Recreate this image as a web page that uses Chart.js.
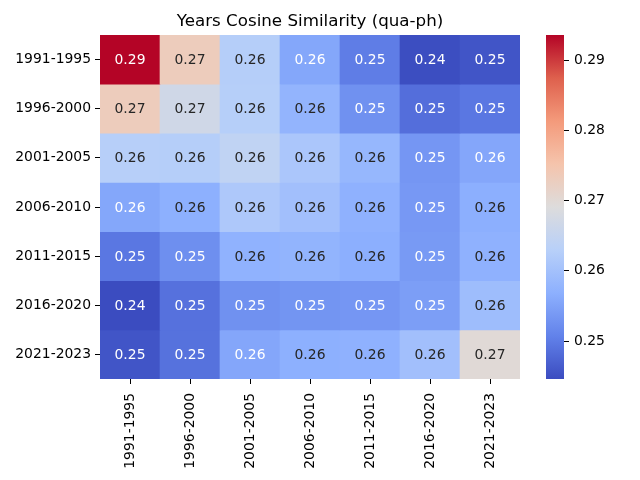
<!DOCTYPE html>
<html>
<head>
<meta charset="utf-8">
<script src="https://cdn.jsdelivr.net/npm/chart.js@4.4.1/dist/chart.umd.min.js"></script>
<style>
    html, body { margin: 0; padding: 0; background: #fff; }
    #wrap { position: relative; width: 640px; height: 480px; }
    canvas { position: absolute; top: 0; }
</style>
</head>
<body>
<div id="wrap">
    <canvas id="heat" width="640" height="480" style="left:0"></canvas>
    <canvas id="cbar" width="94" height="480" style="left:546px"></canvas>
</div>
<script>
const periods = ['1991-1995', '1996-2000', '2001-2005', '2006-2010', '2011-2015', '2016-2020', '2021-2023'];

// rows = periods (top to bottom), columns = periods (left to right)
const row1991 = [0.2936, 0.2732, 0.2625, 0.2556, 0.2502, 0.2448, 0.2456];
const row1996 = [0.2732, 0.2668, 0.2627, 0.2577, 0.2527, 0.2485, 0.2495];
const row2001 = [0.2628, 0.2625, 0.2643, 0.2611, 0.2581, 0.2534, 0.2555];
const row2006 = [0.2556, 0.2569, 0.2615, 0.2598, 0.2571, 0.2537, 0.2567];
const row2011 = [0.2495, 0.2524, 0.2573, 0.2576, 0.2567, 0.2539, 0.2571];
const row2016 = [0.2446, 0.2488, 0.2527, 0.2532, 0.2534, 0.2544, 0.2593];
const row2021 = [0.2456, 0.2489, 0.2555, 0.2569, 0.2571, 0.2598, 0.2699];
const similarity = [row1991, row1996, row2001, row2006, row2011, row2016, row2021];

const colorbarTicks = [0.25, 0.26, 0.27, 0.28, 0.29];

const TITLE = 'Years Cosine Similarity (qua-ph)';
const FONT = 'DejaVu Sans';
const TICK_SIZE = 13.9;

// matplotlib "coolwarm", sampled at 9 points
const coolwarm = [
    [59, 76, 192], [98, 130, 234], [141, 176, 254], [184, 208, 249], [221, 220, 220],
    [245, 196, 172], [244, 154, 123], [222, 96, 77], [180, 4, 38]
];

function cmap(t) {
    t = Math.min(1, Math.max(0, t)) * (coolwarm.length - 1);
    const i = Math.min(Math.floor(t), coolwarm.length - 2);
    const f = t - i;
    return coolwarm[i].map((c, k) => Math.round(c + (coolwarm[i + 1][k] - c) * f));
}

const rgb = c => `rgb(${c.join(',')})`;

// same rule seaborn uses to pick annotation colour
function luminance(c) {
    const lin = c.map(v => {
        v /= 255;
        return v <= 0.03928 ? v / 12.92 : Math.pow((v + 0.055) / 1.055, 2.4);
    });
    return 0.2126 * lin[0] + 0.7152 * lin[1] + 0.0722 * lin[2];
}

const allValues = similarity.flat();
const vmin = Math.min(...allValues);
const vmax = Math.max(...allValues);
const norm = v => (v - vmin) / (vmax - vmin);

Chart.defaults.font.family = FONT;
Chart.defaults.color = '#000';

const cellLabels = {
    id: 'cellLabels',
    afterDatasetsDraw(chart) {
        const ctx = chart.ctx;
        ctx.save();
        ctx.font = `${TICK_SIZE}px ${FONT}`;
        ctx.textAlign = 'center';
        ctx.textBaseline = 'middle';
        chart.data.datasets.forEach((ds, r) => {
            chart.getDatasetMeta(r).data.forEach((bar, c) => {
                const v = ds.values[c];
                const p = bar.getCenterPoint();
                ctx.fillStyle = luminance(cmap(norm(v))) > 0.408 ? '#262626' : '#ffffff';
                ctx.fillText(v.toFixed(2), p.x, p.y + 1);
            });
        });
        ctx.restore();
    }
};

const heatTitle = {
    id: 'heatTitle',
    afterDraw(chart) {
        const { ctx, chartArea } = chart;
        ctx.save();
        ctx.font = `16.7px ${FONT}`;
        ctx.fillStyle = '#000';
        ctx.textAlign = 'center';
        ctx.textBaseline = 'middle';
        ctx.fillText(TITLE, (chartArea.left + chartArea.right) / 2, 22);
        ctx.restore();
    }
};

const tickGrid = { display: true, drawOnChartArea: false, offset: false, tickLength: 5, tickColor: '#000', tickWidth: 1 };

new Chart('heat', {
    type: 'bar',
    data: {
        labels: periods,
        datasets: similarity.map((row, r) => ({
            label: periods[r],
            data: row.map(() => 1),
            values: row,
            backgroundColor: row.map(v => rgb(cmap(norm(v)))),
            borderWidth: 0,
            barPercentage: 1,
            categoryPercentage: 1
        }))
    },
    options: {
        responsive: false,
        animation: false,
        layout: { padding: { top: 35, right: 120, left: 0, bottom: 0 } },
        plugins: {
            legend: { display: false },
            tooltip: { enabled: false }
        },
        scales: {
            x: {
                stacked: true,
                grid: tickGrid,
                border: { display: false },
                ticks: { font: { size: TICK_SIZE }, minRotation: 90, maxRotation: 90, padding: 9 },
                afterFit: s => { s.height = 101; }
            },
            y: {
                stacked: true,
                min: 0,
                max: periods.length,
                reverse: true,
                grid: tickGrid,
                border: { display: false },
                afterBuildTicks: s => { s.ticks = periods.map((_, i) => ({ value: i + 0.5 })); },
                ticks: {
                    font: { size: TICK_SIZE },
                    padding: 4,
                    callback: v => periods[Math.floor(v)]
                },
                afterFit: s => { s.width = 100; }
            }
        }
    },
    plugins: [cellLabels, heatTitle]
});

function barGradient(chart) {
    const a = chart.chartArea;
    if (!a) return null;
    const g = chart.ctx.createLinearGradient(0, a.bottom, 0, a.top);
    coolwarm.forEach((c, i) => g.addColorStop(i / (coolwarm.length - 1), rgb(c)));
    return g;
}

new Chart('cbar', {
    type: 'bar',
    data: {
        labels: [''],
        datasets: [{
            data: [[vmin, vmax]],
            backgroundColor: ctx => barGradient(ctx.chart),
            borderWidth: 0,
            barPercentage: 1,
            categoryPercentage: 1
        }]
    },
    options: {
        responsive: false,
        animation: false,
        layout: { padding: { top: 35, bottom: 101, left: 0, right: 0 } },
        plugins: {
            legend: { display: false },
            tooltip: { enabled: false }
        },
        scales: {
            x: { display: false },
            y: {
                position: 'right',
                min: vmin,
                max: vmax,
                grid: tickGrid,
                border: { display: false },
                afterBuildTicks: s => { s.ticks = colorbarTicks.map(v => ({ value: v })); },
                ticks: {
                    font: { size: TICK_SIZE },
                    padding: 5,
                    callback: v => v.toFixed(2)
                },
                afterFit: s => { s.width = 76; }
            }
        }
    }
});
</script>
</body>
</html>
